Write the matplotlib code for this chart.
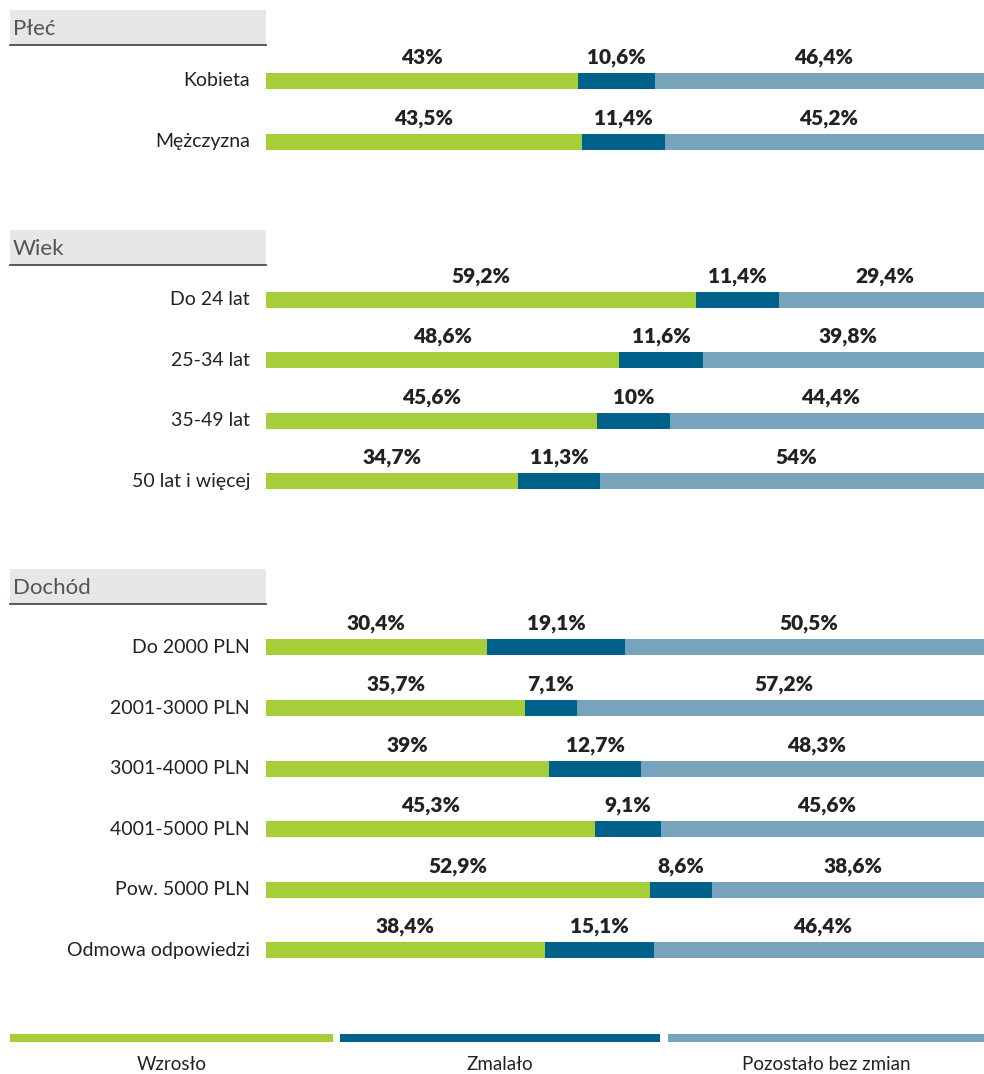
import matplotlib
matplotlib.use("Agg")
import matplotlib.pyplot as plt
from matplotlib.patches import Rectangle

# ---------------- data ----------------
groups = ["Płeć", "Wiek", "Dochód"]
group_categories = [
    ["Kobieta", "Mężczyzna"],
    ["Do 24 lat", "25-34 lat", "35-49 lat", "50 lat i więcej"],
    ["Do 2000 PLN", "2001-3000 PLN", "3001-4000 PLN", "4001-5000 PLN",
     "Pow. 5000 PLN", "Odmowa odpowiedzi"],
]
wzroslo = [43, 43.5, 59.2, 48.6, 45.6, 34.7, 30.4, 35.7, 39, 45.3, 52.9, 38.4]
zmalalo = [10.6, 11.4, 11.4, 11.6, 10, 11.3, 19.1, 7.1, 12.7, 9.1, 8.6, 15.1]
pozostalo = [46.4, 45.2, 29.4, 39.8, 44.4, 54, 50.5, 57.2, 48.3, 45.6, 38.6, 46.4]
series_names = ["Wzrosło", "Zmalało", "Pozostało bez zmian"]

# ---------------- style ----------------
colors = ["#a6ce39", "#00628b", "#77a3bc"]
W, H = 984, 1074
FONT = "Lato"
txt_color = "#222222"

fig = plt.figure(figsize=(W / 100, H / 100), dpi=100)
fig.patch.set_facecolor("white")

bar_left_px = 266
ax = fig.add_axes([bar_left_px / W, 0, (W - bar_left_px) / W, 1])
ax.set_xlim(0, 98.9)
ax.set_ylim(H, 0)
ax.axis("off")

def fx(px):
    return px / W

def fy(py):
    return 1 - py / H

# layout
header_top = 10
first_row_offsets = [71, 70, 78]
row_step = 60.6
group_gap = 88
bar_h = 16

def fmt(v):
    s = ("%.1f" % v).rstrip("0").rstrip(".")
    return s.replace(".", ",") + "%"

idx = 0
top = header_top
for g, cats in enumerate(group_categories):
    # header box
    fig.patches.append(Rectangle((fx(10), fy(top + 35)), fx(256), 35 / H,
                                 transform=fig.transFigure, facecolor="#e6e7e8",
                                 edgecolor="none"))
    fig.add_artist(plt.Line2D([fx(10), fx(266)], [fy(top + 35), fy(top + 35)],
                              transform=fig.transFigure, color="#4d4d4d", lw=1.3))
    fig.text(fx(13), fy(top + 19), groups[g], fontsize=16, family=FONT,
             color="#555555", ha="left", va="center")
    y = top + first_row_offsets[g]
    for c in cats:
        vals = [wzroslo[idx], zmalalo[idx], pozostalo[idx]]
        left = 0
        for v, col in zip(vals, colors):
            ax.barh(y, v, left=left, height=bar_h, color=col, linewidth=0)
            ax.text(left + v / 2, y - 14, fmt(v), ha="center", va="bottom",
                    fontsize=15, fontweight="heavy", family=FONT, color=txt_color)
            left += v
        fig.text(fx(250), fy(y), c, ha="right", va="center", fontsize=14,
                 family=FONT, color=txt_color)
        idx += 1
        last_y = y
        y += row_step
    top = last_y + group_gap

# legend
legend_spans = [(10, 333), (340, 660), (668, 984)]
for (x0, x1), col, name in zip(legend_spans, colors, series_names):
    fig.patches.append(Rectangle((fx(x0), fy(1042)), fx(x1 - x0), 8 / H,
                                 transform=fig.transFigure, facecolor=col,
                                 edgecolor="none"))
    fig.text(fx((x0 + x1) / 2), fy(1065), name, ha="center", va="center",
             fontsize=13.5, family=FONT, color=txt_color)

fig.savefig("out.png", dpi=100, facecolor="white")
